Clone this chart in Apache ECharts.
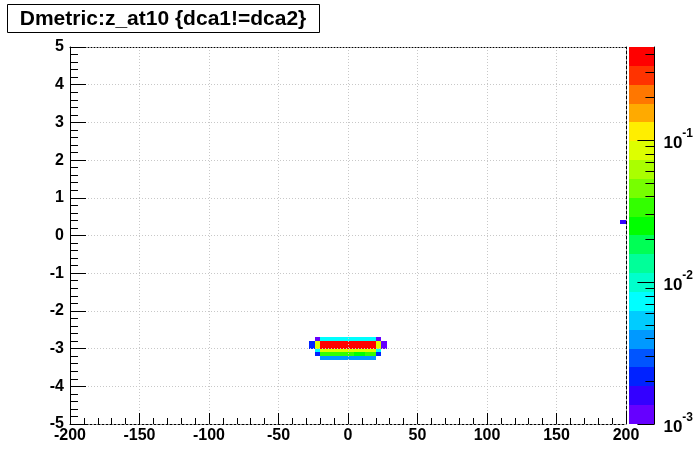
<!DOCTYPE html>
<html><head><meta charset="utf-8">
<script src="https://cdn.jsdelivr.net/npm/echarts@6/dist/echarts.min.js"></script>
<style>html,body{margin:0;padding:0;background:#fff;}#c{width:696px;height:472px;}</style>
</head><body><div id="c"></div>
<script>
// ---- data ----
const titleText = 'Dmetric:z_at10 {dca1!=dca2}';
const xRange = [-200, 200];
const yRange = [-5, 5];
// bin centers (x bin width 4, y bin width 0.1) and contents
const cellX = [
  -22,-18,-14,-10,-6,-2,2,6,10,14,18,22,
  -26,-22,-18,-14,-10,-6,-2,2,6,10,14,18,22,26,
  -26,-22,-18,-14,-10,-6,-2,2,6,10,14,18,22,26,
  -22,-18,-14,-10,-6,-2,2,6,10,14,18,22,
  -22,-18,-14,-10,-6,-2,2,6,10,14,18,22,
  -18,-14,-10,-6,-2,2,6,10,14,18,
  198
];
const cellY = [
  -2.75,-2.75,-2.75,-2.75,-2.75,-2.75,-2.75,-2.75,-2.75,-2.75,-2.75,-2.75,
  -2.85,-2.85,-2.85,-2.85,-2.85,-2.85,-2.85,-2.85,-2.85,-2.85,-2.85,-2.85,-2.85,-2.85,
  -2.95,-2.95,-2.95,-2.95,-2.95,-2.95,-2.95,-2.95,-2.95,-2.95,-2.95,-2.95,-2.95,-2.95,
  -3.05,-3.05,-3.05,-3.05,-3.05,-3.05,-3.05,-3.05,-3.05,-3.05,-3.05,-3.05,
  -3.15,-3.15,-3.15,-3.15,-3.15,-3.15,-3.15,-3.15,-3.15,-3.15,-3.15,-3.15,
  -3.25,-3.25,-3.25,-3.25,-3.25,-3.25,-3.25,-3.25,-3.25,-3.25,
  0.35
];
const cellZ = [
  0.0012,0.0072,0.0072,0.0072,0.0072,0.0072,0.0072,0.0072,0.0072,0.0072,0.0072,0.0012,
  0.0021,0.085,0.42,0.42,0.42,0.42,0.42,0.42,0.42,0.42,0.42,0.42,0.085,0.0012,
  0.0021,0.085,0.42,0.42,0.42,0.42,0.42,0.42,0.42,0.42,0.42,0.42,0.085,0.0012,
  0.0072,0.085,0.085,0.085,0.085,0.085,0.085,0.085,0.085,0.085,0.085,0.0072,
  0.0021,0.034,0.034,0.034,0.034,0.034,0.034,0.025,0.025,0.034,0.034,0.0021,
  0.004,0.004,0.004,0.004,0.004,0.004,0.004,0.004,0.004,0.004,
  0.0016
];
const palette = ['#6600ff','#3300ff','#0022ff','#0055ff','#0099ff','#00ccff','#00ffff','#00ffcc','#00ff99','#00ff55',
                 '#00ff00','#33ff00','#77ff00','#aaff00','#ddff00','#ffee00','#ffaa00','#ff7700','#ff3300','#ff0000'];
const zMin = 0.001, zMax = 0.452;
const zLabelExps = [-3, -2, -1];
const zMinorTicks = [0.002,0.003,0.004,0.005,0.006,0.007,0.008,0.009,
                     0.02,0.03,0.04,0.05,0.06,0.07,0.08,0.09,0.2,0.3,0.4];

// ---- chart ----
const binW = 4, binH = 0.1;
const lMin = Math.log10(zMin), lMax = Math.log10(zMax);
const nLev = palette.length;
const lStep = (lMax - lMin) / nLev;
function colorFor(z) {
  let i = Math.floor((Math.log10(z) - lMin) / lStep);
  if (i < 0) i = 0; if (i > nLev - 1) i = nLev - 1;
  return palette[i];
}
const FONT = '"Liberation Sans", Arial, Helvetica, sans-serif';
const lab = {fontSize: 16, fontWeight: 'bold', color: '#000', fontFamily: FONT};
const chart = echarts.init(document.getElementById('c'), null, {renderer: 'canvas'});
chart.setOption({
  animation: false,
  backgroundColor: '#fff',
  grid: [
    {left: 70, right: 70, top: 47, bottom: 48},
    {left: 629, right: 35, top: 47, bottom: 48}
  ],
  xAxis: [
    {gridIndex: 0, type: 'value', min: xRange[0], max: xRange[1], interval: 50, z: 5,
     axisLine: {show: true, onZero: false, lineStyle: {color: '#000', width: 1, type: [2, 2]}},
     axisTick: {show: true, inside: true, length: 11, lineStyle: {color: '#000'}},
     minorTick: {show: true, splitNumber: 5, length: 6, lineStyle: {color: '#000'}},
     axisLabel: Object.assign({margin: 4, showMinLabel: true, showMaxLabel: true}, lab),
     splitLine: {show: true, lineStyle: {color: '#c8c8c8', type: [1, 2]}}},
    {gridIndex: 0, type: 'value', position: 'top', min: xRange[0], max: xRange[1], z: 5,
     axisLine: {show: true, onZero: false, lineStyle: {color: '#000', type: [1, 2]}},
     axisTick: {show: false}, axisLabel: {show: false}, splitLine: {show: false}},
    {gridIndex: 1, type: 'value', min: 0, max: 1, show: false}
  ],
  yAxis: [
    {gridIndex: 0, type: 'value', min: yRange[0], max: yRange[1], interval: 1, z: 5,
     axisLine: {show: true, onZero: false, lineStyle: {color: '#000', width: 1}},
     axisTick: {show: true, inside: true, length: 16, lineStyle: {color: '#000'}},
     minorTick: {show: true, splitNumber: 5, length: 8, lineStyle: {color: '#000'}},
     axisLabel: Object.assign({margin: 6, showMinLabel: true, showMaxLabel: true}, lab),
     splitLine: {show: true, lineStyle: {color: '#c8c8c8', type: [1, 2]}}},
    {gridIndex: 0, type: 'value', position: 'right', min: yRange[0], max: yRange[1], z: 5,
     axisLine: {show: true, onZero: false, lineStyle: {color: '#000', type: [3, 2]}},
     axisTick: {show: false}, axisLabel: {show: false}, splitLine: {show: false}},
    {gridIndex: 1, type: 'value', position: 'right', min: lMin, max: lMax, z: 5,
     axisLine: {show: true, onZero: false, lineStyle: {color: '#000', width: 1}},
     axisTick: {show: true, inside: true, length: 17, customValues: zLabelExps, lineStyle: {color: '#000'}},
     axisLabel: {show: true, margin: 9, customValues: zLabelExps,
       formatter: v => '{b|10}{s|' + v + '}',
       rich: {b: {fontSize: 17, fontWeight: 'bold', color: '#000', fontFamily: FONT, lineHeight: 24, verticalAlign: 'bottom'},
              s: {fontSize: 12, fontWeight: 'bold', color: '#000', fontFamily: FONT, lineHeight: 24, verticalAlign: 'top'}}},
     splitLine: {show: false}},
    {gridIndex: 1, type: 'value', position: 'right', min: lMin, max: lMax, z: 5,
     axisLine: {show: false, onZero: false},
     axisTick: {show: true, inside: true, length: 9, customValues: zMinorTicks.map(v => Math.log10(v)), lineStyle: {color: '#000'}},
     axisLabel: {show: false}, splitLine: {show: false}}
  ],
  series: [
    {type: 'custom', xAxisIndex: 0, yAxisIndex: 0, z: 3,
     data: cellX.map((x, i) => [x, cellY[i], cellZ[i]]),
     renderItem: function (params, api) {
       const x = api.value(0), y = api.value(1), z = api.value(2);
       const p0 = api.coord([x - binW / 2, y + binH / 2]);
       const p1 = api.coord([x + binW / 2, y - binH / 2]);
       const x0 = Math.round(p0[0]), y0 = Math.round(p0[1]);
       const x1 = Math.round(p1[0]), y1 = Math.round(p1[1]);
       return {type: 'rect', shape: {x: x0, y: y0, width: x1 - x0, height: y1 - y0},
               style: {fill: colorFor(z), stroke: null}};
     }},
    {type: 'custom', xAxisIndex: 2, yAxisIndex: 2, z: 3,
     data: palette.map((c, i) => [i]),
     renderItem: function (params, api) {
       const i = api.value(0);
       const p0 = api.coord([0, lMin + (i + 1) * lStep]);
       const p1 = api.coord([1, lMin + i * lStep]);
       const x0 = Math.round(p0[0]), y0 = Math.round(p0[1]);
       const x1 = Math.round(p1[0]), y1 = Math.round(p1[1]);
       return {type: 'rect', shape: {x: x0, y: y0, width: x1 - x0, height: y1 - y0},
               style: {fill: palette[i], stroke: null}};
     }}
  ],
  graphic: [
    {type: 'rect', left: 7, top: 4, z: 10, shape: {width: 312, height: 28},
     style: {fill: '#fff', stroke: '#000', lineWidth: 1}},
    {type: 'text', x: 163, y: 19, z: 11,
     style: {text: titleText, fontSize: 21, fontWeight: 'bold', fontFamily: FONT, fill: '#000',
             textAlign: 'center', textVerticalAlign: 'middle'}}
  ]
});
</script></body></html>
